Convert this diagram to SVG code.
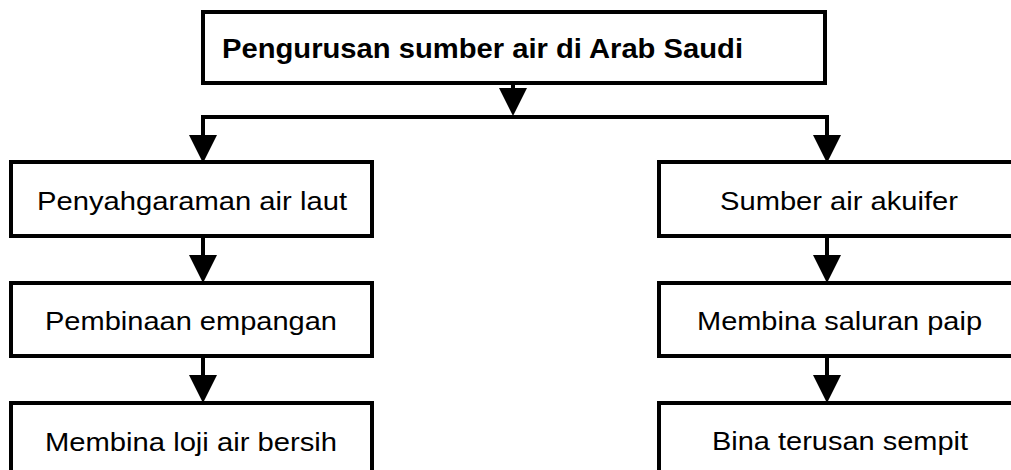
<svg xmlns="http://www.w3.org/2000/svg" width="1011" height="470" viewBox="0 0 1011 470">
  <defs>
    <marker id="arrow" markerUnits="userSpaceOnUse" markerWidth="28" markerHeight="28" viewBox="0 0 28 28" refX="22" refY="14" orient="auto">
      <path d="M0,0 L28,14 L0,28 Z" fill="#000"/>
    </marker>
  </defs>
  <style>
    .box { fill: #fff; stroke: #000; stroke-width: 4; }
    .lbl { font-family: "Liberation Sans", Arial, sans-serif; font-size: 26px; fill: #000; text-anchor: middle; }
    .title { font-family: "Liberation Sans", Arial, sans-serif; font-size: 27px; font-weight: bold; fill: #000; }
    .conn { fill: none; stroke: #000; stroke-width: 4; }
    .arr { marker-end: url(#arrow); }
  </style>
  <rect width="1011" height="470" fill="#fff"/>

  <g id="connectors">
    <line class="conn arr" x1="513" y1="83" x2="513" y2="110"/>
    <polyline class="conn" points="203,135 203,117 827,117 827,135"/>
    <line class="conn arr" x1="203" y1="117" x2="203" y2="157"/>
    <line class="conn arr" x1="827" y1="117" x2="827" y2="157"/>
    <line class="conn arr" x1="203" y1="236" x2="203" y2="277"/>
    <line class="conn arr" x1="203" y1="356" x2="203" y2="397"/>
    <line class="conn arr" x1="827" y1="236" x2="827" y2="277"/>
    <line class="conn arr" x1="827" y1="356" x2="827" y2="397"/>
  </g>

  <g id="node-title">
    <rect class="box" x="203" y="12" width="622" height="71"/>
    <text class="title" x="222" y="58" textLength="521" lengthAdjust="spacingAndGlyphs">Pengurusan sumber air di Arab Saudi</text>
  </g>

  <g id="node-penyahgaraman">
    <rect class="box" x="11" y="162" width="361" height="74"/>
    <text class="lbl" x="192" y="210" textLength="310" lengthAdjust="spacingAndGlyphs">Penyahgaraman air laut</text>
  </g>
  <g id="node-empangan">
    <rect class="box" x="11" y="283" width="361" height="73"/>
    <text class="lbl" x="191" y="330" textLength="292" lengthAdjust="spacingAndGlyphs">Pembinaan empangan</text>
  </g>
  <g id="node-loji">
    <rect class="box" x="11" y="403" width="361" height="80"/>
    <text class="lbl" x="191" y="451" textLength="292" lengthAdjust="spacingAndGlyphs">Membina loji air bersih</text>
  </g>

  <g id="node-akuifer">
    <rect class="box" x="659" y="162" width="361" height="74"/>
    <text class="lbl" x="839" y="210" textLength="238" lengthAdjust="spacingAndGlyphs">Sumber air akuifer</text>
  </g>
  <g id="node-paip">
    <rect class="box" x="659" y="283" width="361" height="73"/>
    <text class="lbl" x="839.5" y="330" textLength="285" lengthAdjust="spacingAndGlyphs">Membina saluran paip</text>
  </g>
  <g id="node-terusan">
    <rect class="box" x="659" y="403" width="361" height="80"/>
    <text class="lbl" x="840" y="450" textLength="256" lengthAdjust="spacingAndGlyphs">Bina terusan sempit</text>
  </g>
</svg>
